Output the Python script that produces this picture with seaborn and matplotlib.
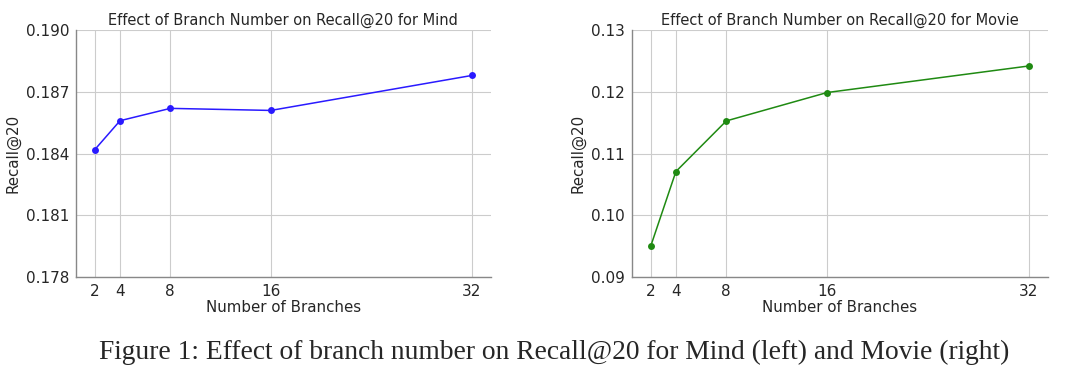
import matplotlib
matplotlib.use("Agg")
import matplotlib.pyplot as plt
import seaborn as sns
import pandas as pd

# Data
branches = [2, 4, 8, 16, 32]
mind_recall = [0.1842, 0.1856, 0.1862, 0.1861, 0.1878]
movie_recall = [0.0950, 0.1071, 0.1153, 0.1199, 0.1242]
mind_yticks = [0.178, 0.181, 0.184, 0.187, 0.190]
movie_yticks = [0.09, 0.10, 0.11, 0.12, 0.13]

sns.set_style("whitegrid")
plt.rcParams["font.family"] = ["DejaVu Sans"]

fig = plt.figure(figsize=(10.8, 3.87), dpi=100)
ax1 = fig.add_axes([0.0704, 0.284, 0.384, 0.638])
ax2 = fig.add_axes([0.585, 0.284, 0.385, 0.638])

panels = [
    (ax1, mind_recall, "#2a1aff", "Mind", mind_yticks, "{:.3f}"),
    (ax2, movie_recall, "#1f8a12", "Movie", movie_yticks, "{:.2f}"),
]

for ax, vals, color, name, yt, fmt in panels:
    df = pd.DataFrame({"branches": branches, "recall": vals})
    sns.lineplot(data=df, x="branches", y="recall", ax=ax, color=color,
                 marker="o", markersize=5, markeredgewidth=0, linewidth=1.1)
    ax.set_xticks(branches)
    ax.set_xticklabels([str(b) for b in branches], fontsize=11)
    ax.set_yticks(yt)
    ax.set_yticklabels([fmt.format(v) for v in yt], fontsize=11)
    ax.set_ylim(yt[0], yt[-1])
    ax.set_xlim(0.5, 33.5)
    ax.set_title(f"Effect of Branch Number on Recall@20 for {name}", fontsize=10.5, pad=4)
    ax.set_xlabel("Number of Branches", fontsize=10.8, labelpad=1)
    ax.set_ylabel("Recall@20", fontsize=10.8, labelpad=4)
    ax.grid(True, color="#cccccc", linewidth=0.8)
    for s in ["top", "right"]:
        ax.spines[s].set_visible(False)
    for s in ["left", "bottom"]:
        ax.spines[s].set_color("#888888")
        ax.spines[s].set_linewidth(1.0)
    ax.tick_params(axis="both", length=3, width=0.8, color="#555555", pad=2)

fig.text(0.513, 0.09, "Figure 1: Effect of branch number on Recall@20 for Mind (left) and Movie (right)",
         ha="center", va="center", fontsize=19.8, family="Liberation Serif")

fig.savefig("out.png", dpi=100)
